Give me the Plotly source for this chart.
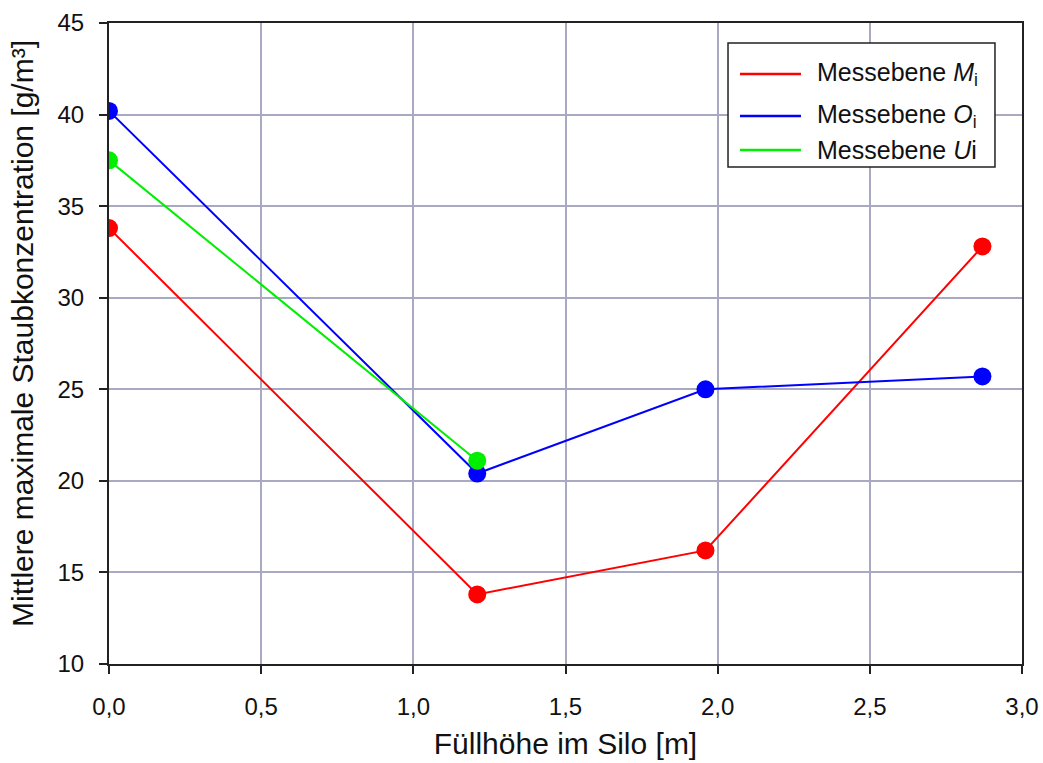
import plotly.graph_objects as go

# Füllhöhe [m] and mittlere maximale Staubkonzentration [g/m³] je Messebene
x_m = [0.0, 1.21, 1.96, 2.87]
y_m = [33.8, 13.8, 16.2, 32.8]

x_o = [0.0, 1.21, 1.96, 2.87]
y_o = [40.2, 20.4, 25.0, 25.7]

x_u = [0.0, 1.21]
y_u = [37.5, 21.1]

series = [
    ("Messebene <i>M</i><sub>i</sub>", x_m, y_m, "#ff0000"),
    ("Messebene <i>O</i><sub>i</sub>", x_o, y_o, "#0000ff"),
    ("Messebene <i>U</i>i", x_u, y_u, "#00ee00"),
]

FONT = "Liberation Sans, Arial, sans-serif"

fig = go.Figure()
for name, xs, ys, col in series:
    fig.add_trace(go.Scatter(x=xs, y=ys, mode="lines+markers", name=name,
                             showlegend=False,
                             line=dict(color=col, width=2),
                             marker=dict(color=col, size=18, line=dict(width=0))))

# Legend box drawn in plot-area (paper) coordinates: line sample + label per row
legend_box = dict(x0=0.678, x1=0.9704, y0=0.7754, y1=0.9688)
legend_rows_y = [0.9204, 0.8549, 0.8019]
fig.add_shape(type="rect", xref="paper", yref="paper", **legend_box,
              line=dict(color="#222222", width=1.5), fillcolor="white", layer="above")
for (name, _, _, col), ry in zip(series, legend_rows_y):
    fig.add_shape(type="line", xref="paper", yref="paper",
                  x0=0.6911, x1=0.7579, y0=ry, y1=ry,
                  line=dict(color=col, width=2.5), layer="above")
    fig.add_annotation(xref="paper", yref="paper", x=0.7733, y=ry,
                       xanchor="left", yanchor="middle", showarrow=False,
                       text=name, font=dict(family=FONT, size=25, color="#111111"))

# vertical axis title
fig.add_annotation(xref="paper", yref="paper", x=0, y=0.515, xshift=-86,
                   xanchor="center", yanchor="middle", showarrow=False, textangle=-90,
                   text="Mittlere maximale Staubkonzentration [g/m³]",
                   font=dict(family=FONT, size=30, color="#111111"))

axis_common = dict(
    showline=True, linecolor="#222222", linewidth=2, mirror=True,
    ticks="outside", ticklen=8, tickwidth=2, tickcolor="#222222",
    showgrid=True, gridcolor="#a9a9c4", gridwidth=1.5,
    zeroline=False, automargin=False,
    tickfont=dict(family=FONT, size=24, color="#111111"),
)

fig.update_layout(
    width=1043, height=763,
    margin=dict(l=109, r=21, t=23, b=99),
    paper_bgcolor="white", plot_bgcolor="white",
    separators=",.",
    showlegend=False,
    font=dict(family=FONT, color="#111111"),
    xaxis=dict(range=[0, 3.0], dtick=0.5, tickformat=".1f", ticklabelstandoff=12,
               title=dict(text="Füllhöhe im Silo [m]", font=dict(size=30), standoff=14),
               **axis_common),
    yaxis=dict(range=[10, 45], dtick=5, ticklabelstandoff=10, **axis_common),
)

fig.write_html("out.html")
